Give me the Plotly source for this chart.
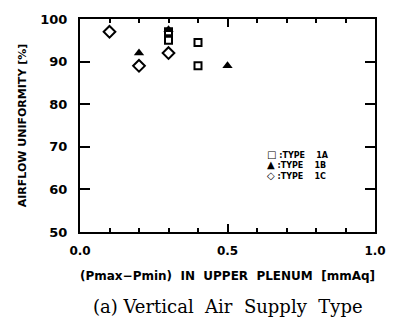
import plotly.graph_objects as go

# Airflow uniformity vs. plenum pressure difference, three configurations
type_1a_dp = [0.3, 0.3, 0.4, 0.4]
type_1a_u = [97.0, 95.0, 94.5, 89.0]
type_1b_dp = [0.2, 0.3, 0.5]
type_1b_u = [92.0, 97.5, 89.0]
type_1c_dp = [0.1, 0.2, 0.3]
type_1c_u = [97.0, 89.0, 92.0]

x_ticks = [0.0, 0.5, 1.0]
x_tick_labels = ["0.0", "0.5", "1.0"]
y_ticks = [50, 60, 70, 80, 90, 100]

# key entries: symbol glyph + label
key_glyphs = ["\u25a1", "\u25b2", "\u25c7"]
key_labels = [":TYPE\u00a0\u00a0\u00a0\u00a01A", ":TYPE\u00a0\u00a0\u00a0\u00a01B", ":TYPE\u00a0\u00a0\u00a0\u00a01C"]

FONT = "DejaVu Sans"
NB = "\u00a0"

fig = go.Figure()
fig.add_trace(go.Scatter(
    x=type_1a_dp, y=type_1a_u, mode="markers", name="TYPE 1A",
    marker=dict(symbol="square-open", size=7, color="black", line=dict(width=2)),
))
fig.add_trace(go.Scatter(
    x=type_1b_dp, y=type_1b_u, mode="markers", name="TYPE 1B",
    marker=dict(symbol="triangle-up", size=9, color="black"),
))
fig.add_trace(go.Scatter(
    x=type_1c_dp, y=type_1c_u, mode="markers", name="TYPE 1C",
    marker=dict(symbol="diamond-open", size=9, color="black", line=dict(width=2)),
))

axis_common = dict(
    showgrid=False, zeroline=False, showline=True, linecolor="black",
    linewidth=2, mirror="ticks", ticks="inside", tickcolor="black",
    tickwidth=1.5,
)

fig.update_xaxes(
    range=[0, 1], tickvals=x_ticks, ticktext=x_tick_labels, ticklen=8,
    minor=dict(dtick=0.1, ticks="inside", ticklen=4, tickcolor="black", tickwidth=1.5),
    tickfont=dict(family=FONT, size=12, color="black", weight="bold"),
    ticklabelstandoff=7,
    title=dict(text=f"(Pmax\u2212Pmin){NB}{NB}IN{NB}{NB}UPPER{NB}{NB}PLENUM{NB}{NB}[mmAq]",
               font=dict(family=FONT, size=12, color="black", weight="bold"),
               standoff=14),
    **axis_common,
)
fig.update_yaxes(
    range=[50, 100], tickvals=y_ticks, ticklen=10,
    tickfont=dict(family=FONT, size=13, color="black", weight="bold"),
    ticklabelstandoff=8,
    title=dict(text="AIRFLOW UNIFORMITY [%]",
               font=dict(family=FONT, size=11, color="black", weight="bold"),
               standoff=11),
    **axis_common,
)

# key block as one multi-line text
key_text = "<br>".join(
    f'<span style="font-size:10px">{g}</span>{NB}{lab}'
    for g, lab in zip(key_glyphs, key_labels)
)
fig.add_annotation(
    text=key_text, xref="paper", yref="paper",
    x=0.628, y=0.316, xanchor="left", yanchor="middle", align="left",
    showarrow=False,
    font=dict(family=FONT, size=8, color="black", weight="bold"),
)

fig.add_annotation(
    text=f"(a){NB}Vertical{NB}{NB}Air{NB}{NB}Supply{NB}{NB}Type",
    xref="paper", yref="paper",
    x=0.5, y=-0.35, xanchor="center", yanchor="middle", showarrow=False,
    font=dict(family="DejaVu Serif", size=18, color="black"),
)

fig.update_layout(
    width=398, height=322,
    margin=dict(l=80, r=13, t=13, b=90),
    paper_bgcolor="white", plot_bgcolor="white",
    showlegend=False,
)

fig.write_html("out.html")
